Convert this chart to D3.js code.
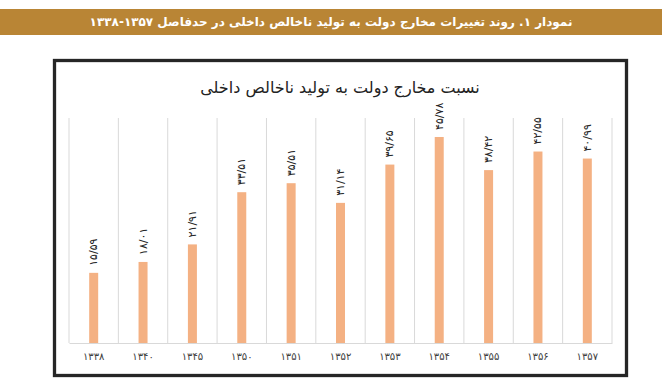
<!DOCTYPE html>
<html>
<head>
<meta charset="utf-8">
<script src="https://cdn.jsdelivr.net/npm/d3@7"></script>
<style>
  body { margin: 0; background: #fff; }
  svg { display: block; font-family: "DejaVu Sans", sans-serif; }
</style>
</head>
<body>
<svg id="chart" width="662" height="386"></svg>
<script>
// data
const years = ["۱۳۳۸", "۱۳۴۰", "۱۳۴۵", "۱۳۵۰", "۱۳۵۱", "۱۳۵۲", "۱۳۵۳", "۱۳۵۴", "۱۳۵۵", "۱۳۵۶", "۱۳۵۷"];
const values = [15.59, 18.01, 21.91, 33.51, 35.51, 31.14, 39.65, 45.78, 38.42, 42.55, 40.99];
const valueLabels = ["۱۵/۵۹", "۱۸/۰۱", "۲۱/۹۱", "۳۳/۵۱", "۳۵/۵۱", "۳۱/۱۴", "۳۹/۶۵", "۴۵/۷۸", "۳۸/۴۲", "۴۲/۵۵", "۴۰/۹۹"];
const headerText = "نمودار ۱. روند تغییرات مخارج دولت به تولید ناخالص داخلی در حدفاصل ۱۳۵۷-۱۳۳۸";
const chartTitle = "نسبت مخارج دولت به تولید ناخالص داخلی";

const data = years.map((y, i) => ({ year: y, value: values[i], label: valueLabels[i] }));

const svg = d3.select("#chart");

// header band
svg.append("rect")
   .attr("x", 0).attr("y", 9)
   .attr("width", 662).attr("height", 26)
   .attr("fill", "#b98535");
svg.append("text")
   .attr("x", 331).attr("y", 22)
   .attr("text-anchor", "middle")
   .attr("dominant-baseline", "central")
   .attr("direction", "rtl")
   .attr("fill", "#fff")
   .attr("font-weight", "bold")
   .attr("font-size", 12)
   .text(headerText);

// chart frame
svg.append("rect")
   .attr("x", 54.5).attr("y", 60.5)
   .attr("width", 572).attr("height", 315)
   .attr("fill", "#fff")
   .attr("stroke", "#262626")
   .attr("stroke-width", 3.3);

svg.append("text")
   .attr("x", 340).attr("y", 87)
   .attr("text-anchor", "middle")
   .attr("dominant-baseline", "central")
   .attr("direction", "rtl")
   .attr("fill", "#222")
   .attr("font-size", 16)
   .text(chartTitle);

const plotLeft = 69, plotRight = 612, plotTop = 118, plotBottom = 343;

const x = d3.scaleBand()
   .domain(years)
   .range([plotLeft, plotRight])
   .padding(0);

const y = d3.scaleLinear()
   .domain([0, 50])
   .range([plotBottom, plotTop]);

// vertical grid lines at band edges
const edges = years.map(d => x(d)).concat([plotRight]);
svg.append("g")
   .selectAll("line")
   .data(edges)
   .enter()
   .append("line")
   .attr("x1", d => d).attr("x2", d => d)
   .attr("y1", plotTop).attr("y2", plotBottom)
   .attr("stroke", "#d9d9d9")
   .attr("stroke-width", 1);

// bars
const barW = 9;
svg.append("g")
   .selectAll("rect")
   .data(data)
   .enter()
   .append("rect")
   .attr("x", d => x(d.year) + x.bandwidth() / 2 - barW / 2)
   .attr("y", d => y(d.value))
   .attr("width", barW)
   .attr("height", d => plotBottom - y(d.value))
   .attr("fill", "#f4b183");

// x axis
const xAxis = svg.append("g")
   .attr("transform", `translate(0, ${plotBottom})`)
   .call(d3.axisBottom(x).tickSize(0).tickPadding(10));
xAxis.select(".domain").attr("stroke", "#d9d9d9");
xAxis.selectAll("text")
   .attr("font-size", 10)
   .attr("fill", "#404040")
   .attr("font-family", "DejaVu Sans, sans-serif");

// value labels, rotated
svg.append("g")
   .selectAll("text")
   .data(data)
   .enter()
   .append("text")
   .attr("transform", d => `translate(${x(d.year) + x.bandwidth() / 2}, ${y(d.value) - 7}) rotate(-90)`)
   .attr("text-anchor", "start")
   .attr("dominant-baseline", "central")
   .attr("font-size", 11)
   .attr("fill", "#262626")
   .text(d => d.label);
</script>
</body>
</html>
